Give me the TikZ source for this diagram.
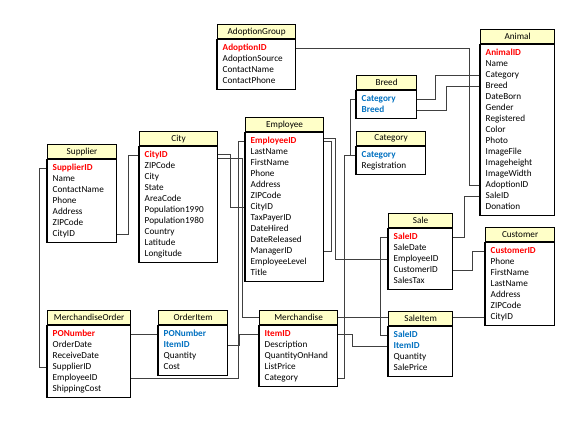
\documentclass[tikz,border=0pt]{standalone}
\usepackage{fontspec}
\setmainfont{Carlito}
\usepackage{tikz}
\usetikzlibrary{backgrounds}
\definecolor{headyellow}{HTML}{FFFFC8}
\definecolor{keyred}{HTML}{FF0000}
\definecolor{keyblue}{HTML}{0070C0}

% one table: name, north west corner, width, title, fields (style/text)
\newcommand{\ertable}[5]{%
  \node[tblhead, minimum width=#3] (#1) at (#2) {#4};
  \pgfmathsetmacro\tw{#3-11}
  \foreach \s/\t [count=\i] in {#5} {
    \node[\s, text width=\tw pt] (#1-\i) at ([yshift=-3.5-(\i-1)*11]#1.south west) {\t};
    \xdef\nrows{\i}
  }
  \draw[tblline] (#1.south west) rectangle ([yshift=-2.5]#1-\nrows.south east);
}

\begin{document}
\begin{tikzpicture}[x=1pt,y=-1pt,
font=\fontsize{9.2}{11}\selectfont,
tblhead/.style={draw,line width=1.2pt,fill=headyellow,anchor=north west,minimum height=14,inner sep=0},
tblline/.style={line width=1.2pt},
fld/.style={anchor=north west,inner ysep=0,inner xsep=5.5,minimum height=11,text height=6.2,text depth=1.8,align=left},
pk/.style={fld,text=keyred,font=\fontsize{9.2}{11}\selectfont\bfseries},
fk/.style={fld,text=keyblue,font=\fontsize{9.2}{11}\selectfont\bfseries},
link/.style={draw=black!75,line width=0.9pt}]
\useasboundingbox (0,0) rectangle (586,424);

% tables
\coordinate (adoptnw) at (217,24);
\coordinate (animalnw) at (480,29);
\coordinate (breednw) at (356,75);
\coordinate (categnw) at (356,131);
\coordinate (empnw) at (245,117);
\coordinate (citynw) at (139,131);
\coordinate (suppnw) at (47,144);
\coordinate (salenw) at (388,213);
\coordinate (custnw) at (485,227);
\coordinate (sitemnw) at (388,311);
\coordinate (mordernw) at (47,310);
\coordinate (oitemnw) at (158,310);
\coordinate (merchnw) at (259,310);

\ertable{adopt}{adoptnw}{78}{AdoptionGroup}{pk/AdoptionID, fld/AdoptionSource, fld/ContactName, fld/ContactPhone}
\ertable{animal}{animalnw}{74}{Animal}{pk/AnimalID, fld/Name, fld/Category, fld/Breed, fld/DateBorn, fld/Gender, fld/Registered, fld/Color, fld/Photo, fld/ImageFile, fld/Imageheight, fld/ImageWidth, fld/AdoptionID, fld/SaleID, fld/Donation}
\ertable{breed}{breednw}{60}{Breed}{fk/Category, fk/Breed}
\ertable{categ}{categnw}{69}{Category}{fk/Category, fld/Registration}
\ertable{emp}{empnw}{78}{Employee}{pk/EmployeeID, fld/LastName, fld/FirstName, fld/Phone, fld/Address, fld/ZIPCode, fld/CityID, fld/TaxPayerID, fld/DateHired, fld/DateReleased, fld/ManagerID, fld/EmployeeLevel, fld/Title}
\ertable{city}{citynw}{78}{City}{pk/CityID, fld/ZIPCode, fld/City, fld/State, fld/AreaCode, fld/Population1990, fld/Population1980, fld/Country, fld/Latitude, fld/Longitude}
\ertable{supp}{suppnw}{69}{Supplier}{pk/SupplierID, fld/Name, fld/ContactName, fld/Phone, fld/Address, fld/ZIPCode, fld/CityID}
\ertable{sale}{salenw}{64}{Sale}{pk/SaleID, fld/SaleDate, fld/EmployeeID, fld/CustomerID, fld/SalesTax}
\ertable{cust}{custnw}{69}{Customer}{pk/CustomerID, fld/Phone, fld/FirstName, fld/LastName, fld/Address, fld/ZIPCode, fld/CityID}
\ertable{sitem}{sitemnw}{64}{SaleItem}{fk/SaleID, fk/ItemID, fld/Quantity, fld/SalePrice}
\ertable{morder}{mordernw}{83}{MerchandiseOrder}{pk/PONumber, fld/OrderDate, fld/ReceiveDate, fld/SupplierID, fld/EmployeeID, fld/ShippingCost}
\ertable{oitem}{oitemnw}{69}{OrderItem}{fk/PONumber, fk/ItemID, fld/Quantity, fld/Cost}
\ertable{merch}{merchnw}{78}{Merchandise}{pk/ItemID, fld/Description, fld/QuantityOnHand, fld/ListPrice, fld/Category}

% relationships, behind the tables
\begin{scope}[on background layer]
\path[link] (adopt-1.east) -| ([xshift=-11]animal-13.west) -- (animal-13.west);
\path[link] (breed-1.east) -- ++(19,0) |- (animal-3.west);
\path[link] (breed-2.east) -- ++(30,0) |- (animal-4.west);
\path[link] (breed-1.west) -- ++(-6,0) |- (categ-1.west);
\path[link] (merch-5.east) -- ++(7,0) |- (categ-1.west);
\path[link] (sale-1.east) -- ++(12,0) |- (animal-14.west);
\path[link] (sale-4.east) -- ++(20,0) |- (cust-1.west);
\path[link] (sale-1.west) -- ++(-8,0) |- (sitem-1.west);
\path[link] (merch-1.east) -- ++(15,0) |- (sitem-2.west);
\path[link] (sale-3.west) -- ++(-53,0) |- ([yshift=3]emp-1.east);
\path[link] (emp-1.east) -- ++(8,0) |- (emp-11.east);
\path[link] ([yshift=1]city-1.east) -- ++(13,0) |- (emp-7.west);
\path[link] ([yshift=-3]city-1.east) -- ++(25,0) |- (cust-7.west);
\path[link] (supp-7.east) -- ++(12,0) |- (city-1.west);
\path[link] (supp-1.west) -- ++(-8,0) |- (morder-4.west);
\path[link] (morder-1.east) -- (oitem-1.west);
\path[link] (morder-5.east) -| ([xshift=-7]emp-1.west) -- (emp-1.west);
\path[link] (oitem-2.east) -- ++(12,0) |- (merch-1.west);
\end{scope}
\end{tikzpicture}
\end{document}
